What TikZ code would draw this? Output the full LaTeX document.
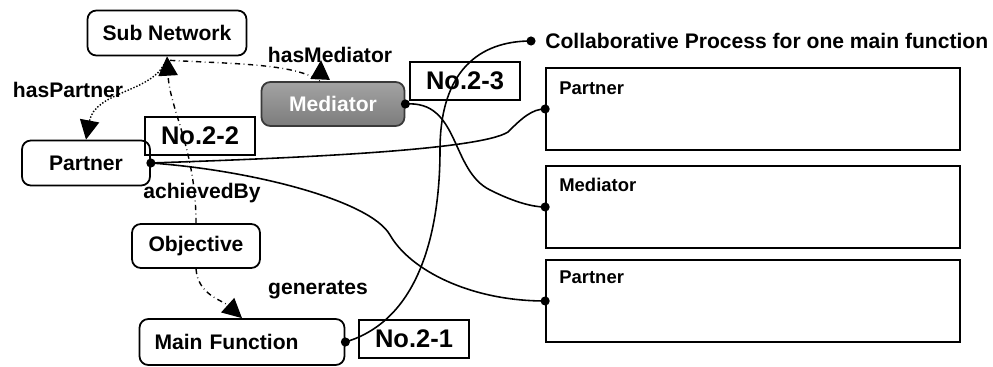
\documentclass[tikz,border=0pt]{standalone}
\usepackage{fontspec}
\setmainfont{Liberation Sans}
\usetikzlibrary{arrows.meta, positioning, calc}
\definecolor{mediatorgray}{HTML}{7C7C7C}
\definecolor{mediatorline}{HTML}{3A3A3A}

\begin{document}
\begin{tikzpicture}[x=0.02cm, y=-0.02cm,
    concept/.style={draw, rounded corners=5pt, line width=1pt, inner sep=0pt,
      font=\bfseries\fontsize{12}{14}\selectfont},
    numbox/.style={draw, line width=1pt, minimum width=2.2cm, minimum height=0.76cm,
      inner sep=0pt, font=\bfseries\fontsize{14.5}{16}\selectfont},
    lanebox/.style={draw, line width=1pt, minimum width=8.28cm, minimum height=1.64cm, inner sep=0pt},
    relation/.style={font=\bfseries\fontsize{12}{14}\selectfont},
    lanelabel/.style={anchor=west, inner sep=0pt, font=\bfseries\fontsize{10.5}{12}\selectfont},
    head/.style={-{Triangle[length=11pt,width=11pt]}},
    link/.style={dash dot, line width=0.8pt, head},
    wire/.style={line width=0.9pt}]
  \useasboundingbox (0,0) rectangle (993,367);

  % concepts of the ontology
  \node[concept, minimum width=3.18cm, minimum height=0.9cm] (subnet) at (167,33) {Sub Network};
  \node[concept, minimum width=2.56cm, minimum height=0.9cm] (partner) at (86,163) {Partner};
  \node[concept, minimum width=2.86cm, minimum height=0.88cm, draw=mediatorline,
        top color=mediatorgray!70, bottom color=mediatorgray, text=white] (mediator) at (333,104) {Mediator};
  \node[concept, minimum width=2.56cm, minimum height=0.88cm] (objective) at (196,246) {Objective};
  \node[concept, minimum width=4.1cm, minimum height=0.92cm, text width=3.5cm, align=left]
    (mainfn) at (242,342) {Main Function};

  % numbering tags
  \node[numbox] (tagB) at (200,136) {No.2-2};
  \node[numbox] (tagC) at (465,81) {No.2-3};
  \node[numbox] (tagA) at (414,339) {No.2-1};

  % collaborative process lanes
  \coordinate (procdot) at (531,41);
  \node[anchor=west, inner sep=0pt, font=\bfseries\fontsize{12}{14}\selectfont] (proc) at (545,41)
    {Collaborative Process for one main function};
  \node[lanebox] (laneP) at (753,109) {};
  \node[lanebox] (laneM) at (753,207) {};
  \node[lanebox] (laneQ) at (753,301) {};
  \node[lanelabel] at (559,88) {Partner};
  \node[lanelabel] at (559,185) {Mediator};
  \node[lanelabel] at (559,277) {Partner};

  % relations
  \draw[densely dotted, line width=0.8pt, head]
    ($(subnet.south)+(-3,8)$) .. controls (150,92) and (95,92) .. (partner.north);
  \node[relation] at (68,90) {hasPartner};
  \draw[link] ($(subnet.south)+(3,4)$) .. controls (240,64) and (295,64) .. ($(mediator.north)+(-13,0)$)
    -- ($(mediator.north)+(-12,-21)$);
  \node[relation] at (330,55) {hasMediator};
  \draw[link] (objective.north) .. controls (196,150) and (170,110) .. (subnet.south);
  \node[relation] at (202,193) {achievedBy};
  \draw[link] (objective.south) .. controls (198,295) and (222,300) .. (mainfn.north);
  \node[relation] at (318,290) {generates};

  % wiring to the process lanes
  \draw[wire] (mainfn.east) .. controls (420,320) and (440,230) .. (440,150)
    .. controls (440,70) and (480,41) .. (procdot);
  \draw[wire] (partner.east) .. controls (300,158) and (480,150) .. (508,132)
    .. controls (522,118) and (532,109) .. (laneP.west);
  \draw[wire] (partner.east) .. controls (250,170) and (370,200) .. (390,235)
    .. controls (410,270) and (470,301) .. (laneQ.west);
  \draw[wire] (mediator.east) .. controls (460,100) and (450,170) .. (490,190)
    .. controls (510,200) and (530,207) .. (laneM.west);

  % connection dots
  \foreach \p in {mainfn.east, partner.east, mediator.east, procdot, laneP.west, laneM.west, laneQ.west}
    \fill (\p) circle (2.6pt);
\end{tikzpicture}
\end{document}
